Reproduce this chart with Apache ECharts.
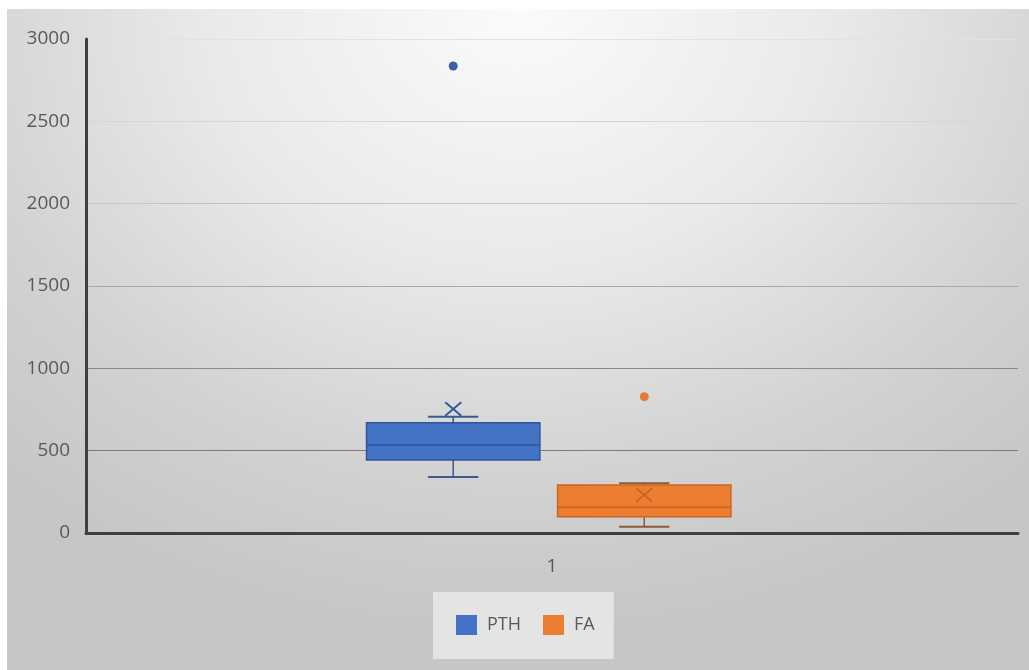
<!DOCTYPE html>
<html>
<head>
<meta charset="utf-8">
<script src="https://cdn.jsdelivr.net/npm/echarts@6/dist/echarts.min.js"></script>
<style>
  html, body { margin: 0; padding: 0; background: #ffffff; }
  #bg {
    position: absolute; left: 7px; top: 9px; width: 1022px; height: 661px;
    background: radial-gradient(ellipse 75% 95% at 50% 0%, #fbfbfb 0%, #eaeaea 40%, #d2d2d2 75%, #c6c6c6 100%);
  }
  #chart { position: absolute; left: 0; top: 0; width: 1029px; height: 670px; }
</style>
</head>
<body>
<div id="bg"></div>
<div id="chart"></div>
<script>
// Category and series names
const categories = ['1'];
const seriesNames = ['PTH', 'FA'];

// Box statistics per series: [min, Q1, median, Q3, max, mean]
const pthStats = [340, 443, 534, 670, 706, 753];
const faStats = [38, 99, 156, 291, 302, 231];

// Points beyond the whiskers
const pthOutliers = [2836];
const faOutliers = [828];

// Value axis ticks
const yTicks = [0, 500, 1000, 1500, 2000, 2500, 3000];

const BOX_FRAC = 0.186;   // box width as a share of the category band
const CAP_FRAC = 0.29;    // whisker cap width as a share of the box width

const styles = {
  PTH: { offset: -0.106, fill: '#4472C4', stroke: '#2F5597', whisker: '#3B5A8C', mean: '#2F5597', dot: '#3C5FA6' },
  FA:  { offset: 0.099,  fill: '#ED7D31', stroke: '#C8651F', whisker: '#8A5A3A', mean: '#C8651F', dot: '#E47A35' }
};

function boxRenderer(st) {
  return function (params, api) {
    const band = api.size([1, 0])[0];
    const cat = api.value(0);
    const cx = api.coord([cat, 0])[0] + st.offset * band;
    const w = band * BOX_FRAC;
    const cap = w * CAP_FRAC;
    const y = (i) => api.coord([cat, api.value(i)])[1];
    const yMin = y(1), yQ1 = y(2), yMed = y(3), yQ3 = y(4), yMax = y(5), yMean = y(6);
    const m = 8;
    const line = (x1, y1, x2, y2, color, lw) => ({
      type: 'line', shape: { x1, y1, x2, y2 },
      style: { stroke: color, lineWidth: lw || 1.5 }
    });
    return {
      type: 'group',
      children: [
        line(cx, yQ3, cx, yMax, st.whisker),
        line(cx, yQ1, cx, yMin, st.whisker),
        line(cx - cap / 2, yMax, cx + cap / 2, yMax, st.whisker, 2),
        line(cx - cap / 2, yMin, cx + cap / 2, yMin, st.whisker, 2),
        {
          type: 'rect',
          shape: { x: cx - w / 2, y: yQ3, width: w, height: yQ1 - yQ3 },
          style: { fill: st.fill, stroke: st.stroke, lineWidth: 1.5 }
        },
        line(cx - w / 2, yMed, cx + w / 2, yMed, st.stroke, 1.5),
        line(cx - m, yMean - m * 0.85, cx + m, yMean + m * 0.85, st.mean, 1.8),
        line(cx - m, yMean + m * 0.85, cx + m, yMean - m * 0.85, st.mean, 1.8)
      ]
    };
  };
}

function outlierRenderer(st) {
  return function (params, api) {
    const band = api.size([1, 0])[0];
    const cat = api.value(0);
    const p = api.coord([cat, api.value(1)]);
    return {
      type: 'circle',
      shape: { cx: p[0] + st.offset * band, cy: p[1], r: 4.5 },
      style: { fill: st.dot }
    };
  };
}

const groups = [
  { name: seriesNames[0], stats: pthStats, outliers: pthOutliers },
  { name: seriesNames[1], stats: faStats, outliers: faOutliers }
];

const series = [];
groups.forEach((g) => {
  const st = styles[g.name];
  series.push({
    name: g.name,
    type: 'custom',
    itemStyle: { color: st.fill },
    renderItem: boxRenderer(st),
    encode: { x: 0, y: [1, 2, 3, 4, 5, 6] },
    data: [[0].concat(g.stats)],
    z: 3
  });
  series.push({
    name: g.name,
    type: 'custom',
    itemStyle: { color: st.fill },
    renderItem: outlierRenderer(st),
    encode: { x: 0, y: 1 },
    data: g.outliers.map((v) => [0, v]),
    z: 3
  });
});

const chart = echarts.init(document.getElementById('chart'));
chart.setOption({
  backgroundColor: 'transparent',
  animation: false,
  textStyle: { fontFamily: 'Open Sans' },
  grid: { left: 86, right: 11, top: 39, bottom: 137 },
  legend: {
    data: seriesNames,
    left: 433, top: 592,
    padding: [23, 19, 24, 23],
    backgroundColor: '#e4e4e4',
    icon: 'rect',
    itemWidth: 21, itemHeight: 20,
    itemGap: 22,
    textStyle: { fontSize: 18, color: '#595959', fontFamily: 'Open Sans', padding: [0, 0, 0, 5] }
  },
  xAxis: {
    type: 'category',
    data: categories,
    axisLine: { lineStyle: { color: '#3f3f3f', width: 3 } },
    axisTick: { show: false },
    axisLabel: { fontSize: 19, color: '#595959', margin: 24 },
    splitLine: { show: false }
  },
  yAxis: {
    type: 'value',
    min: yTicks[0], max: yTicks[yTicks.length - 1], interval: 500,
    axisLine: { show: true, lineStyle: { color: '#3f3f3f', width: 3 } },
    axisTick: { show: false },
    axisLabel: { fontSize: 19, color: '#595959', margin: 16, formatter: (v) => String(v) },
    splitLine: {
      lineStyle: {
        width: 1,
        color: ['#8c8c8c', '#7a7a7a', '#8a8a8a', '#a8a8a8', '#c4c4c4', '#d6d6d6', '#e2e2e2']
      }
    }
  },
  series: series
});
</script>
</body>
</html>
